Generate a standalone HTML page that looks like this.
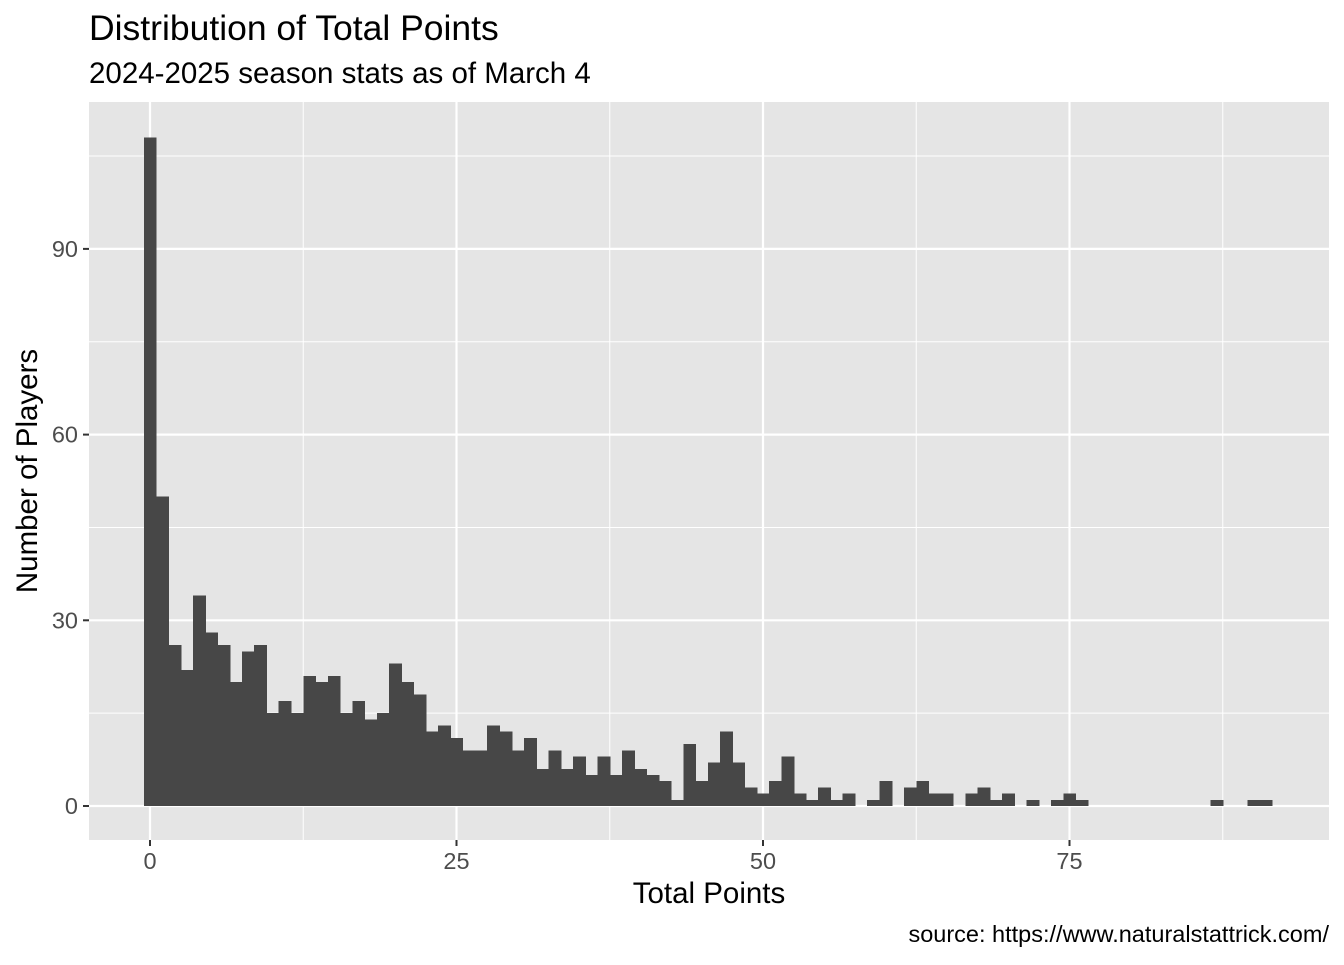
<!DOCTYPE html>
<html><head><meta charset="utf-8"><style>
body{margin:0;background:#fff;font-family:"Liberation Sans",Arial,sans-serif;}
</style></head><body>
<svg id="chart" width="1344" height="960" xmlns="http://www.w3.org/2000/svg" font-family="Liberation Sans, Arial, sans-serif">
<rect width="1344" height="960" fill="#fff"/>
<text x="89" y="40" font-size="35.5" fill="#000">Distribution of Total Points</text>
<text x="89" y="83" font-size="29.5" fill="#000">2024-2025 season stats as of March 4</text>
<rect x="89" y="102" width="1240" height="738" fill="#e5e5e5"/>
<g id="grid"></g>
<g id="bars" shape-rendering="crispEdges"></g>
<g id="axes"></g>
<text x="709" y="903" font-size="29.5" text-anchor="middle">Total Points</text>
<text transform="translate(37,471) rotate(-90)" font-size="29.5" text-anchor="middle">Number of Players</text>
<text x="1329" y="942" font-size="23.5" text-anchor="end">source: https://www.naturalstattrick.com/</text>
</svg>
<script>
const counts = [108,50,26,22,34,28,26,20,25,26,15,17,15,21,20,21,15,17,14,15,23,20,18,12,13,11,9,9,13,12,9,11,6,9,6,8,5,8,5,9,6,5,4,1,10,4,7,12,7,3,2,4,8,2,1,3,1,2,0,1,4,0,3,4,2,2,0,2,3,1,2,0,1,0,1,2,1,0,0,0,0,0,0,0,0,0,0,1,0,0,1,1];
const xTicks = [0,25,50,75];
const yTicks = [0,30,60,90];
const NS='http://www.w3.org/2000/svg';
const px0=150, pxPer=12.26, py0=806, pyPer=6.19;
const X=v=>px0+v*pxPer, Y=v=>py0-v*pyPer;
const grid=document.getElementById('grid'), bars=document.getElementById('bars'), axes=document.getElementById('axes');
function mk(tag,attrs,parent){const e=document.createElementNS(NS,tag);for(const k in attrs)e.setAttribute(k,attrs[k]);parent.appendChild(e);return e;}
for(let i=0;i<xTicks.length-1;i++){const m=(xTicks[i]+xTicks[i+1])/2;const l=mk('line',{x1:X(m),x2:X(m),y1:102,y2:840,stroke:'#fff','stroke-width':1},grid);}
{const m=87.5;const l=mk('line',{x1:X(m),x2:X(m),y1:102,y2:840,stroke:'#fff','stroke-width':1},grid);}
for(let i=0;i<yTicks.length;i++){const m=yTicks[i]+15;const l=mk('line',{x1:89,x2:1329,y1:Y(m),y2:Y(m),stroke:'#fff','stroke-width':1},grid);}
xTicks.forEach(t=>{const l=mk('line',{x1:X(t),x2:X(t),y1:102,y2:840,stroke:'#fff','stroke-width':2.2},grid);
const tk=mk('line',{x1:X(t),x2:X(t),y1:840,y2:846,stroke:'#333','stroke-width':2},axes);
const tx=mk('text',{x:X(t),y:869,'font-size':23.5,'text-anchor':'middle',fill:'#4d4d4d'},axes);tx.textContent=t;});
yTicks.forEach(t=>{const l=mk('line',{x1:89,x2:1329,y1:Y(t),y2:Y(t),stroke:'#fff','stroke-width':2.2},grid);
const tk=mk('line',{x1:83,x2:89,y1:Y(t),y2:Y(t),stroke:'#333','stroke-width':2},axes);
const tx=mk('text',{x:78,y:Y(t)+8,'font-size':23.5,'text-anchor':'end',fill:'#4d4d4d'},axes);tx.textContent=t;});
counts.forEach((c,i)=>{if(c<=0)return;const r=mk('rect',{x:X(i-0.5),y:Y(c),width:pxPer+0.6,height:Y(0)-Y(c),fill:'#474747'},bars);});
</script>
</body></html>
